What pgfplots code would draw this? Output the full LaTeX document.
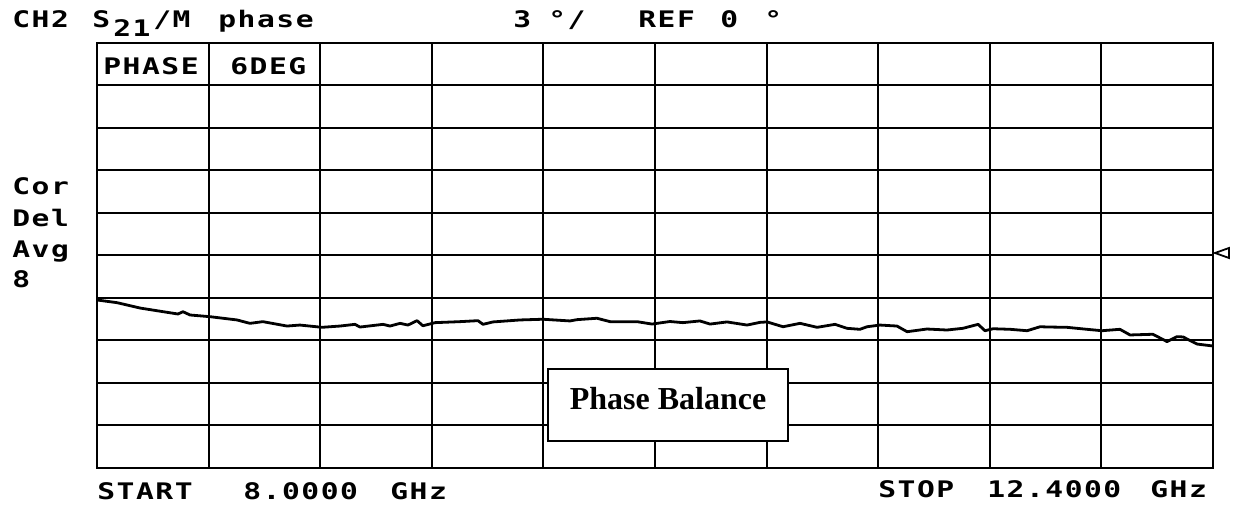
\documentclass[border=0pt]{standalone}
\usepackage{pgfplots}
\pgfplotsset{compat=1.18}
\usepackage{fontspec}
\setmainfont{Liberation Serif}
\newfontfamily\hp[FakeStretch=1.3,LetterSpace=6.6]{DejaVu Sans Mono Bold}
\newcommand{\hpf}{\hp\fontsize{11.4pt}{13pt}\selectfont}
\begin{document}
\begin{tikzpicture}
\useasboundingbox (0,0) rectangle (616.5pt,254pt);
\begin{axis}[
  scale only axis,
  width=558pt, height=212.5pt,
  at={(48.5pt,20pt)}, anchor=south west,
  xmin=8, xmax=12.4, ymin=-15, ymax=15,
  xtick={8,8.44,8.88,9.32,9.76,10.2,10.64,11.08,11.52,11.96,12.4},
  ytick={-15,-12,-9,-6,-3,0,3,6,9,12,15},
  xticklabels={}, yticklabels={},
  major tick length=0pt,
  grid=major,
  major grid style={black, line width=1pt},
  axis line style={black, line width=1pt},
]
\addplot[black, line width=1.4pt, line join=round] coordinates {
(8.000,-3.14)(8.079,-3.33)(8.170,-3.71)(8.237,-3.90)(8.319,-4.13)(8.339,-3.97)
(8.367,-4.20)(8.446,-4.32)(8.552,-4.55)(8.603,-4.79)(8.654,-4.67)(8.749,-4.98)
(8.800,-4.91)(8.887,-5.07)(8.958,-4.98)(9.017,-4.86)(9.037,-5.05)(9.128,-4.86)
(9.155,-4.98)(9.195,-4.79)(9.226,-4.91)(9.262,-4.60)(9.285,-4.96)(9.333,-4.74)
(9.431,-4.67)(9.502,-4.60)(9.522,-4.86)(9.561,-4.69)(9.668,-4.55)(9.758,-4.50)
(9.865,-4.62)(9.892,-4.53)(9.971,-4.43)(10.023,-4.67)(10.129,-4.67)(10.188,-4.84)
(10.259,-4.66)(10.310,-4.74)(10.377,-4.62)(10.417,-4.84)(10.484,-4.69)(10.563,-4.91)
(10.614,-4.72)(10.642,-4.69)(10.705,-5.03)(10.772,-4.79)(10.839,-5.07)(10.910,-4.86)
(10.957,-5.14)(11.008,-5.21)(11.036,-5.03)(11.087,-4.91)(11.154,-4.98)(11.194,-5.38)
(11.272,-5.19)(11.351,-5.26)(11.414,-5.14)(11.474,-4.86)(11.501,-5.31)(11.533,-5.17)
(11.600,-5.21)(11.667,-5.31)(11.718,-5.03)(11.757,-5.05)(11.824,-5.07)(11.903,-5.21)
(11.962,-5.31)(12.033,-5.21)(12.073,-5.61)(12.163,-5.56)(12.219,-6.08)(12.258,-5.73)
(12.282,-5.75)(12.337,-6.25)(12.400,-6.39)
};
\end{axis}
% reference marker (REF 0)
\draw[black, line width=0.9pt] (607.5pt,127.5pt) -- (614.5pt,130pt) -- (614.5pt,125pt) -- cycle;
% header texts
\node[anchor=base west, inner sep=0] at (6pt,240pt) {\hpf CH2};
\node[anchor=base west, inner sep=0] at (46pt,240pt) {\hpf S};
\node[anchor=base west, inner sep=0] at (56.5pt,235.5pt) {\hpf 21};
\node[anchor=base west, inner sep=0] at (76.5pt,240pt) {\hpf /M};
\node[anchor=base west, inner sep=0] at (109pt,240pt) {\hpf phase};
\node[anchor=base west, inner sep=0] at (256.5pt,240pt) {\hpf 3};
\node[anchor=base west, inner sep=0] at (274pt,240pt) {\hpf °/};
\node[anchor=base west, inner sep=0] at (319pt,240pt) {\hpf REF};
\node[anchor=base west, inner sep=0] at (360pt,240pt) {\hpf 0};
\node[anchor=base west, inner sep=0] at (382pt,240pt) {\hpf °};
% in-grid labels
\node[anchor=base west, inner sep=0] at (51.5pt,216.5pt) {\hpf PHASE};
\node[anchor=base west, inner sep=0] at (115pt,216.5pt) {\hpf 6DEG};
% left side
\node[anchor=base west, inner sep=0] at (6pt,156.5pt) {\hpf Cor};
\node[anchor=base west, inner sep=0] at (6pt,140.5pt) {\hpf Del};
\node[anchor=base west, inner sep=0] at (6pt,125pt) {\hpf Avg};
\node[anchor=base west, inner sep=0] at (6pt,110pt) {\hpf 8};
% bottom
\node[anchor=base west, inner sep=0] at (48.5pt,4pt) {\hpf START};
\node[anchor=base west, inner sep=0] at (121.5pt,4pt) {\hpf 8.0000};
\node[anchor=base west, inner sep=0] at (195pt,4pt) {\hpf GHz};
\node[anchor=base west, inner sep=0] at (439pt,5pt) {\hpf STOP};
\node[anchor=base west, inner sep=0] at (493.5pt,5pt) {\hpf 12.4000};
\node[anchor=base west, inner sep=0] at (575pt,5pt) {\hpf GHz};
% annotation box
\draw[black, line width=0.9pt, fill=white] (274pt,33.5pt) rectangle (394pt,69.5pt);
\node[anchor=base, inner sep=0] at (334pt,49pt) {\fontsize{16pt}{18pt}\selectfont\bfseries Phase Balance};
\end{tikzpicture}
\end{document}
